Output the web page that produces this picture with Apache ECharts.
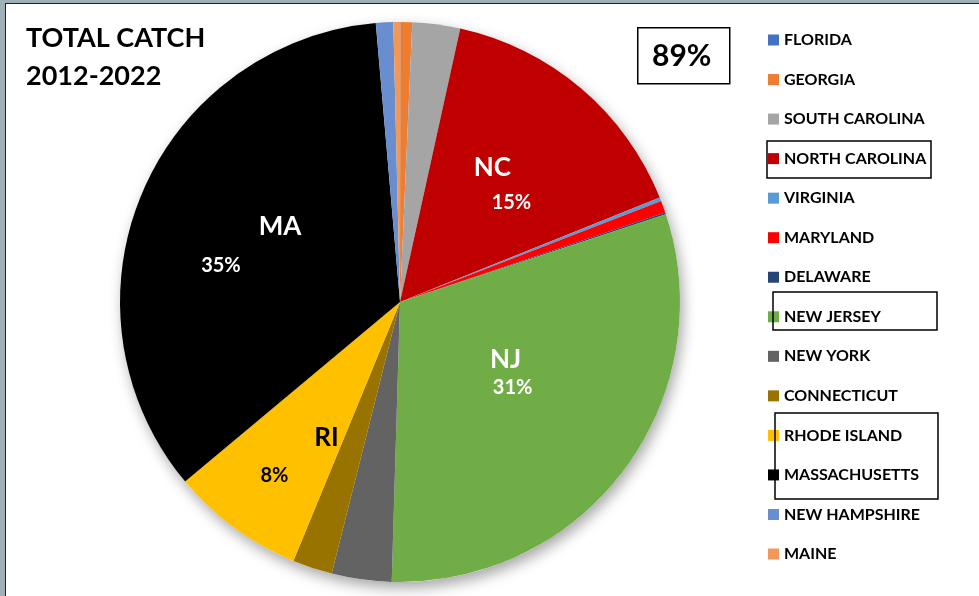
<!DOCTYPE html>
<html>
<head>
<meta charset="utf-8">
<style>
	html, body { margin: 0; padding: 0; background: #fff; }
	#chart { width: 979px; height: 596px; }
</style>
<script src="https://cdn.jsdelivr.net/npm/echarts@6/dist/echarts.min.js"></script>
</head>
<body>
<div id="chart"></div>
<script>
// Share of total catch 2012-2022 (percent)
var states = ['FLORIDA', 'GEORGIA', 'SOUTH CAROLINA', 'NORTH CAROLINA', 'VIRGINIA', 'MARYLAND', 'DELAWARE',
	'NEW JERSEY', 'NEW YORK', 'CONNECTICUT', 'RHODE ISLAND', 'MASSACHUSETTS', 'NEW HAMPSHIRE', 'MAINE']
var shortNames = ['FL', 'GA', 'SC', 'NC', 'VA', 'MD', 'DE', 'NJ', 'NY', 'CT', 'RI', 'MA', 'NH', 'ME']
var catchShare = [0.02, 0.68, 2.75, 15.47, 0.2, 0.7, 0.1, 30.55, 3.45, 2.3, 7.7, 34.7, 1.0, 0.38]
var labelled = ['NC', 'NJ', 'RI', 'MA']

var colors = ['#4472C4', '#ED7D31', '#A5A5A5', '#C00000', '#5B9BD5', '#FF0000', '#264478',
	'#70AD47', '#636363', '#997300', '#FFC000', '#000000', '#698ED0', '#F1975A']

var FONT = 'Lato'

// label look for the four big states
var labelStyle = {
	NC: { color: '#fff', nameLh: 42, pctPad: [0, 0, 0, 38], dx: 0, dy: -11 },
	NJ: { color: '#fff', nameLh: 28, pctPad: [0, 0, 0, 14], dx: -9, dy: -14 },
	RI: { color: '#000', nameLh: 48, pctPad: [0, 104, 0, 0], dx: 11, dy: 34 },
	MA: { color: '#fff', nameLh: 50, pctPad: [0, 118, 0, 0], dx: 12, dy: -7 },
}

var chartDom = echarts.init(document.getElementById('chart'))

var pieData = states.map((name, i) => {
	var item = { name: name, value: catchShare[i], itemStyle: { color: colors[i] } }
	var st = labelStyle[shortNames[i]]
	if (st) {
		item.label = {
			show: true,
			formatter: shortNames[i] + '\n{p|{d}%}',
			color: st.color,
			fontFamily: FONT,
			fontWeight: 'bold',
			fontSize: 26,
			lineHeight: st.nameLh,
			align: 'center',
			rich: {
				p: { color: st.color, fontFamily: FONT, fontWeight: 'bold', fontSize: 20, lineHeight: 28, padding: st.pctPad },
			},
		}
	}
	return item
})

// sum of the rounded shares of the labelled states
var total = 0
var sum = catchShare.reduce((a, b) => a + b, 0)
shortNames.forEach((s, i) => {
	if (labelled.indexOf(s) >= 0) total += Math.round((catchShare[i] / sum) * 100)
})

var option = {
	animation: false,
	backgroundColor: '#fff',
	title: {
		text: 'TOTAL CATCH\n2012-2022',
		left: 26,
		top: 19,
		padding: 0,
		textStyle: { fontFamily: FONT, fontWeight: 'bold', fontSize: 27, lineHeight: 38, color: '#000' },
	},
	legend: {
		orient: 'vertical',
		left: 768,
		top: 32,
		padding: 0,
		data: states,
		icon: 'rect',
		itemWidth: 11,
		itemHeight: 11,
		itemGap: 23.54,
		selectedMode: false,
		textStyle: { fontFamily: FONT, fontWeight: 'bold', fontSize: 16, lineHeight: 16, color: '#000' },
	},
	series: [
		{
			// shadow behind the pie
			type: 'pie',
			silent: true,
			z: 1,
			center: [400, 302],
			radius: 280,
			label: { show: false },
			data: [{ value: 1, name: 'shadow', itemStyle: { color: '#fff', shadowBlur: 14, shadowOffsetX: 3, shadowOffsetY: 6, shadowColor: 'rgba(0,0,0,0.35)' } }],
		},
		{
			type: 'pie',
			z: 2,
			center: [400, 302],
			radius: 280,
			startAngle: 90,
			clockwise: true,
			percentPrecision: 0,
			avoidLabelOverlap: false,
			itemStyle: { borderWidth: 0 },
			label: { show: false, position: 'inside' },
			labelLine: { show: false },
			emphasis: { disabled: true },
			labelLayout: (p) => {
				var st = labelStyle[shortNames[p.dataIndex]]
				return st ? { dx: st.dx, dy: st.dy } : {}
			},
			data: pieData,
		},
	],
	graphic: [
		// window frame
		{ type: 'rect', shape: { x: 0, y: 0, width: 979, height: 3 }, style: { fill: '#9fb0b6' }, silent: true },
		{ type: 'rect', shape: { x: 0, y: 0, width: 5, height: 596 }, style: { fill: '#9fb0b6' }, silent: true },
		{ type: 'rect', shape: { x: 5, y: 3, width: 974, height: 1 }, style: { fill: '#222' }, silent: true },
		{ type: 'rect', shape: { x: 5, y: 3, width: 1, height: 593 }, style: { fill: '#222' }, silent: true },
		// 89% box
		{
			type: 'group',
			left: 637,
			top: 27,
			children: [
				{ type: 'rect', shape: { x: 0, y: 0, width: 92, height: 56 }, style: { fill: '#fff', stroke: '#000', lineWidth: 1.5 } },
				{
					type: 'text',
					x: 44,
					y: 29,
					style: { text: total + '%', fontFamily: FONT, fontWeight: 'bold', fontSize: 30, fill: '#000', align: 'center', verticalAlign: 'middle' },
				},
			],
		},
		// boxes around highlighted legend entries
		{ type: 'rect', shape: { x: 767, y: 141, width: 164, height: 37 }, style: { fill: 'none', stroke: '#000', lineWidth: 1.5 }, z: 10 },
		{ type: 'rect', shape: { x: 773, y: 292, width: 164, height: 38 }, style: { fill: 'none', stroke: '#000', lineWidth: 1.5 }, z: 10 },
		{ type: 'rect', shape: { x: 775, y: 413, width: 163, height: 86 }, style: { fill: 'none', stroke: '#000', lineWidth: 1.5 }, z: 10 },
	],
}

chartDom.setOption(option)
</script>
</body>
</html>
